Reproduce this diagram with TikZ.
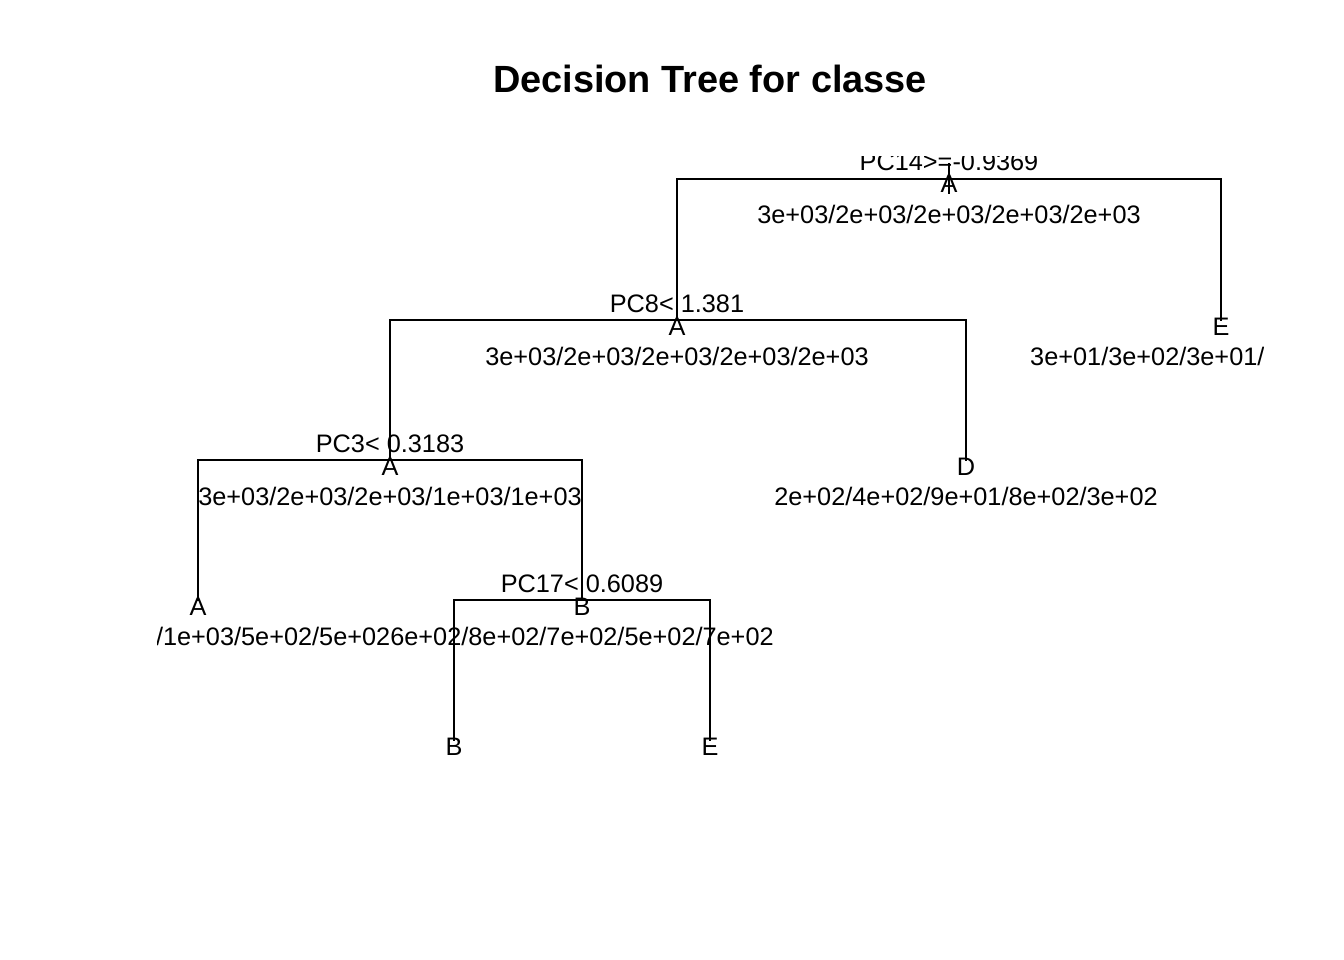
\documentclass[tikz,border=0pt]{standalone}
\usepackage{fontspec}
\setmainfont{Liberation Sans}
\begin{document}
\begin{tikzpicture}[x=1pt,y=-1pt,
  branch/.style={line width=2pt,line cap=rect},
  lbl/.style={inner sep=0pt,anchor=base,font=\fontsize{25.3}{30}\selectfont},
  ttl/.style={inner sep=0pt,anchor=base,font=\fontsize{37.9}{44}\selectfont\bfseries}]
\useasboundingbox[fill=white] (0,0) rectangle (1344,960);
\node[ttl] (title) at (710,93) {Decision Tree for classe};
% node positions
\coordinate (n1) at (949,179);
\coordinate (n2) at (677,320);
\coordinate (n3) at (1221,320);
\coordinate (n4) at (390,460);
\coordinate (n5) at (966,460);
\coordinate (n6) at (198,600);
\coordinate (n7) at (582,600);
\coordinate (n8) at (454,740);
\coordinate (n9) at (710,740);
\coordinate (r0) at (949,164);
\coordinate (r1) at (949,193);
\begin{scope}
\clip (157,157) rectangle (1263,762);
% branches
\draw[branch] (n2) -- (n2 |- n1) -- (n3 |- n1) -- (n3);
\draw[branch] (n4) -- (n4 |- n2) -- (n5 |- n2) -- (n5);
\draw[branch] (n6) -- (n6 |- n4) -- (n7 |- n4) -- (n7);
\draw[branch] (n8) -- (n8 |- n7) -- (n9 |- n7) -- (n9);
\draw[branch] (r0) -- (r1);
% root
\node[lbl] (s1) at (949,171) {PC14>=-0.9369};
\node[lbl] (c1) at (949,193) {A};
\node[lbl] (k1) at (949,224) {3e+03/2e+03/2e+03/2e+03/2e+03};
% PC8
\node[lbl] (s2) at (677,312) {PC8< 1.381};
\node[lbl] (c2) at (677,335) {A};
\node[lbl] (k2) at (677,365) {3e+03/2e+03/2e+03/2e+03/2e+03};
% E leaf
\node[lbl] (c3) at (1221,335) {E};
\node[lbl,anchor=base west] (k3) at (1030,365) {3e+01/3e+02/3e+01/};
% PC3
\node[lbl] (s4) at (390,452) {PC3< 0.3183};
\node[lbl] (c4) at (390,475) {A};
\node[lbl] (k4) at (390,505) {3e+03/2e+03/2e+03/1e+03/1e+03};
% D leaf
\node[lbl] (c5) at (966,475) {D};
\node[lbl] (k5) at (966,505) {2e+02/4e+02/9e+01/8e+02/3e+02};
% A leaf
\node[lbl] (c6) at (198,615) {A};
\node[lbl,anchor=base east] (k6) at (390.5,645) {/1e+03/5e+02/5e+02};
% PC17
\node[lbl] (s7) at (582,592) {PC17< 0.6089};
\node[lbl] (c7) at (582,615) {B};
\node[lbl] (k7) at (582,645) {6e+02/8e+02/7e+02/5e+02/7e+02};
% bottom leaves
\node[lbl] (c8) at (454,755) {B};
\node[lbl] (c9) at (710,755) {E};
\end{scope}
\end{tikzpicture}
\end{document}
